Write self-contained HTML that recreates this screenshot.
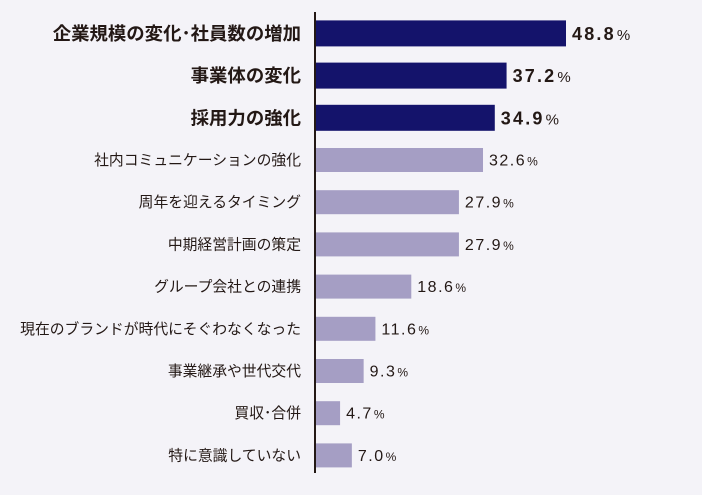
<!DOCTYPE html>
<html><head><meta charset="utf-8"><style>
body{margin:0;background:#f4f3f8;}
svg{display:block;}
text{font-family:"Liberation Sans","Noto Sans CJK JP",sans-serif;fill:#231815;}
</style></head><body>
<svg width="702" height="495" viewBox="0 0 702 495">
<rect x="0" y="0" width="702" height="495" fill="#f4f3f8"/>
<g id="bars"></g>
<line x1="315" y1="12" x2="315" y2="473" stroke="#231815" stroke-width="2"/>
</svg>
<script>
const categories=["企業規模の変化･社員数の増加","事業体の変化","採用力の強化","社内コミュニケーションの強化","周年を迎えるタイミング","中期経営計画の策定","グループ会社との連携","現在のブランドが時代にそぐわなくなった","事業継承や世代交代","買収･合併","特に意識していない"];
const values=[48.8,37.2,34.9,32.6,27.9,27.9,18.6,11.6,9.3,4.7,7.0];
const highlighted=[true,true,true,false,false,false,false,false,false,false,false];
const NS="http://www.w3.org/2000/svg";
const g=document.getElementById('bars');
const x0=316, scale=250/48.8;
function xPos(v){return x0+v*scale;}
function yCenter(i){return 33.4+i*42.2;}
categories.forEach((c,i)=>{
  const v=values[i], hi=highlighted[i], h=hi?26:24, cy=yCenter(i);
  const r=document.createElementNS(NS,'rect');
  
  
  r.setAttribute('x',x0);r.setAttribute('y',cy-h/2);
  r.setAttribute('width',xPos(v)-x0);r.setAttribute('height',h);
  r.setAttribute('fill',hi?'#14136b':'#a59ec4');
  g.appendChild(r);
  const t=document.createElementNS(NS,'text');
  
  
  t.setAttribute('x',301);t.setAttribute('y',cy+(hi?6.5:5));
  t.setAttribute('text-anchor','end');
  t.setAttribute('font-size',hi?18.4:14.8);
  if(hi)t.setAttribute('font-weight','bold');
  t.textContent=c;
  g.appendChild(t);
  const vt=document.createElementNS(NS,'text');
  
  
  vt.setAttribute('x',xPos(v)+6);vt.setAttribute('y',cy+(hi?6.5:5.5));
  vt.setAttribute('font-size',hi?18:16);
  vt.setAttribute('font-weight',hi?'bold':'normal');
  vt.setAttribute('letter-spacing',hi?'2.2':'1.5');
  vt.textContent=v.toFixed(1);
  const p=document.createElementNS(NS,'tspan');
  p.setAttribute('font-size',hi?15:12);
  p.setAttribute('font-weight','normal');
  p.setAttribute('dx','1');
  p.textContent='%';
  vt.appendChild(p);
  g.appendChild(vt);
});
</script>
</body></html>
